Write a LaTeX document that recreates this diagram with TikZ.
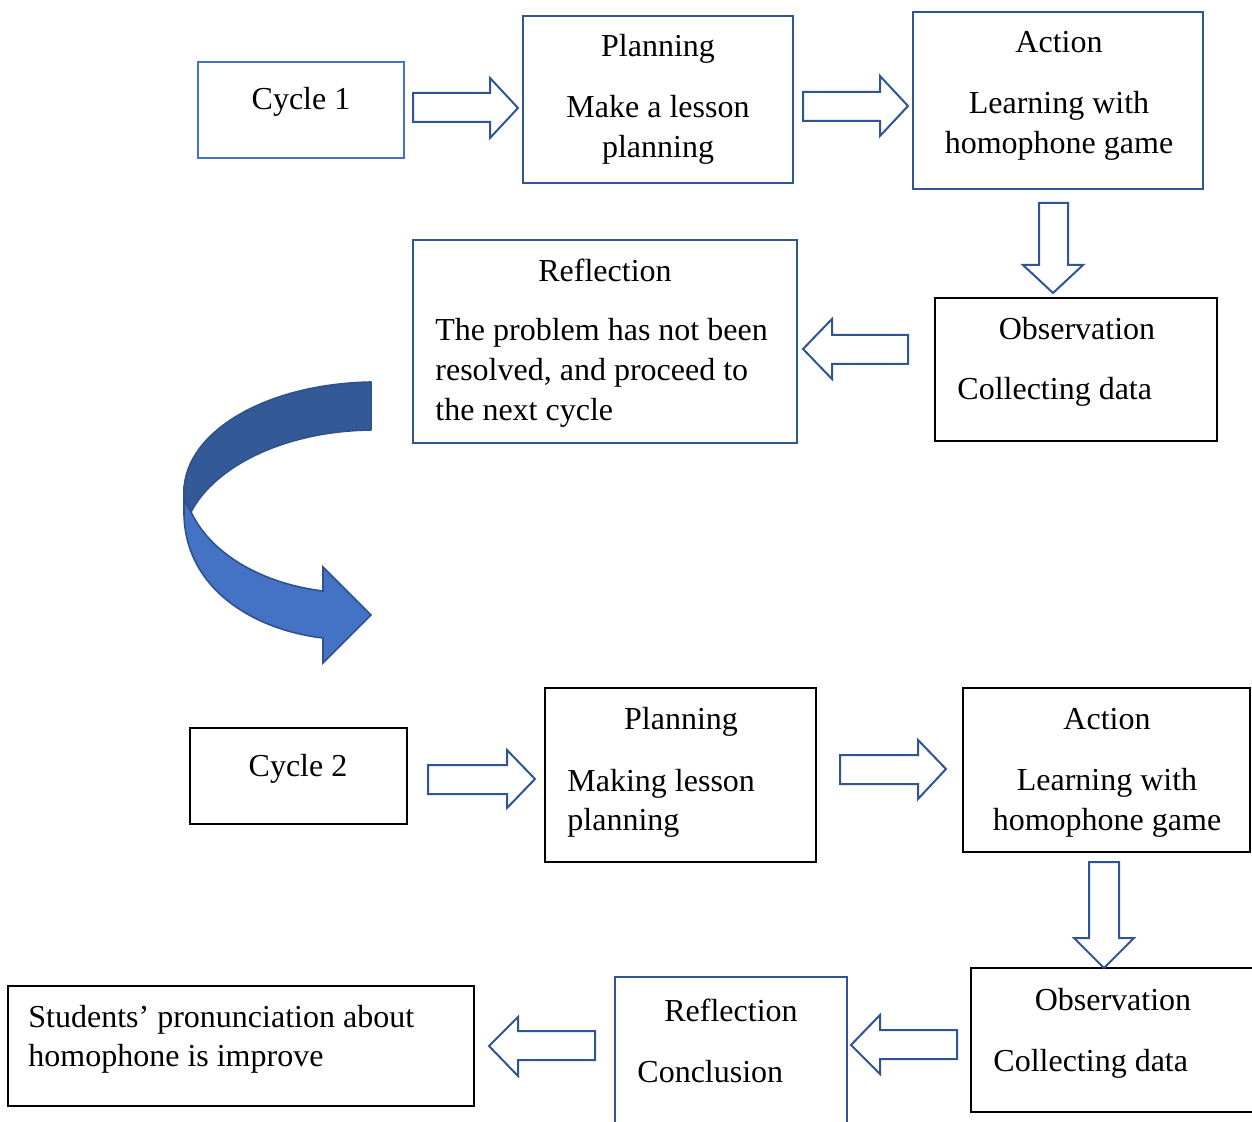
\documentclass[tikz,border=0pt]{standalone}
\usepackage{fontspec}
\setmainfont{Liberation Serif}
\usetikzlibrary{fit}
\definecolor{bbox}{HTML}{2F5597}
\definecolor{lbox}{HTML}{4472C4}
\definecolor{darkarc}{HTML}{335A96}
\definecolor{lightarc}{HTML}{4472C4}
\definecolor{arcline}{HTML}{2F528F}
\tikzset{
  box/.style={draw=black, line width=1.1pt, inner sep=0pt, rectangle},
  bluebox/.style={box, draw=bbox},
  lightbox/.style={box, draw=lbox},
  txt/.style={inner sep=0pt, font=\fontsize{16}{20}\selectfont},
  barrow/.style={draw=bbox, line width=1pt, fill=white, line join=miter},
}
\begin{document}
\begin{tikzpicture}[x=0.5pt, y=-0.5pt]
\useasboundingbox (0,0) rectangle (1252,1122);
\clip (0,0) rectangle (1252,1122);
\fill[white] (0,0) rectangle (1252,1122);

% ---------- Cycle 1 ----------
\node[lightbox, fit={(198,62) (404,158)}] (c1) {};
\node[txt, anchor=base] (c1t) at (301,110) {Cycle 1};

\node[bluebox, fit={(523,16) (793,183)}] (p1) {};
\node[txt, anchor=base] (p1a) at (658,57) {Planning};
\node[txt, anchor=base] (p1b) at (658,118) {Make a lesson};
\node[txt, anchor=base] (p1c) at (658,158) {planning};

\node[bluebox, fit={(913,12) (1203,189)}] (a1) {};
\node[txt, anchor=base] (a1a) at (1059,53) {Action};
\node[txt, anchor=base] (a1b) at (1059,114) {Learning with};
\node[txt, anchor=base] (a1c) at (1059,154) {homophone game};

\node[box, fit={(935,298) (1217,441)}] (o1) {};
\node[txt, anchor=base] (o1a) at (1077,340) {Observation};
\node[txt, anchor=base west] (o1b) at (957,400) {Collecting data};

\node[bluebox, fit={(413,240) (797,443)}] (r1) {};
\node[txt, anchor=base] (r1a) at (605,282) {Reflection};
\node[txt, anchor=base west] (r1b) at (435,341) {The problem has not been};
\node[txt, anchor=base west] (r1c) at (435,381) {resolved, and proceed to};
\node[txt, anchor=base west] (r1d) at (435,421) {the next cycle};

% block arrows cycle 1
\draw[barrow] (413,93) -- (490,93) -- (490,78) -- (518,108) -- (490,138) -- (490,122) -- (413,122) -- cycle;
\draw[barrow] (803,92) -- (880,92) -- (880,76) -- (908,106) -- (880,136) -- (880,121) -- (803,121) -- cycle;
\draw[barrow] (1039,203) -- (1068,203) -- (1068,265) -- (1083,265) -- (1053,293) -- (1023,265) -- (1039,265) -- cycle;
\draw[barrow] (908,335) -- (832,335) -- (832,319) -- (803,349) -- (832,379) -- (832,364) -- (908,364) -- cycle;

% ---------- curved arrow ----------
\draw[fill=lightarc, draw=arcline, line width=0.8pt, line join=miter]
  (184,490) -- (184,515) .. controls (186,590) and (255,630) .. (323,638)
  -- (323,663) -- (371,615) -- (323,567) -- (323,591)
  .. controls (265,584) and (212,556) .. (191,512) -- cycle;
\draw[fill=darkarc, draw=arcline, line width=0.8pt, line join=round]
  (371,382) .. controls (265,384) and (186,432) .. (184,490)
  -- (184,500) -- (191,512)
  .. controls (215,466) and (285,431) .. (371,430) -- cycle;

% ---------- Cycle 2 ----------
\node[box, fit={(190,728) (407,824)}] (c2) {};
\node[txt, anchor=base] (c2t) at (298,776) {Cycle 2};

\node[box, fit={(545,688) (816,862)}] (p2) {};
\node[txt, anchor=base] (p2a) at (681,729) {Planning};
\node[txt, anchor=base west] (p2b) at (567,791) {Making lesson};
\node[txt, anchor=base west] (p2c) at (567,830) {planning};

\node[box, fit={(963,688) (1250,852)}] (a2) {};
\node[txt, anchor=base] (a2a) at (1107,729) {Action};
\node[txt, anchor=base] (a2b) at (1107,790) {Learning with};
\node[txt, anchor=base] (a2c) at (1107,830) {homophone game};

\node[box, fit={(971,968) (1262,1112)}] (o2) {};
\node[txt, anchor=base] (o2a) at (1113,1010) {Observation};
\node[txt, anchor=base west] (o2b) at (993,1071) {Collecting data};

\node[bluebox, fit={(615,977) (847,1140)}] (r2) {};
\node[txt, anchor=base] (r2a) at (731,1021) {Reflection};
\node[txt, anchor=base west] (r2b) at (637,1082) {Conclusion};

\node[box, fit={(8,986) (474,1106)}] (s2) {};
\node[txt, anchor=base west] (s2a) at (28,1027) {Students’ pronunciation about};
\node[txt, anchor=base west] (s2b) at (28,1066) {homophone is improve};

% block arrows cycle 2
\draw[barrow] (428,765) -- (507,765) -- (507,750) -- (535,779) -- (507,808) -- (507,794) -- (428,794) -- cycle;
\draw[barrow] (840,755) -- (918,755) -- (918,740) -- (946,769) -- (918,799) -- (918,784) -- (840,784) -- cycle;
\draw[barrow] (1089,862) -- (1119,862) -- (1119,938) -- (1134,938) -- (1104,968) -- (1074,938) -- (1089,938) -- cycle;
\draw[barrow] (957,1030) -- (880,1030) -- (880,1015) -- (851,1045) -- (880,1074) -- (880,1059) -- (957,1059) -- cycle;
\draw[barrow] (595,1031) -- (518,1031) -- (518,1017) -- (489,1046) -- (518,1076) -- (518,1060) -- (595,1060) -- cycle;
\end{tikzpicture}
\end{document}
